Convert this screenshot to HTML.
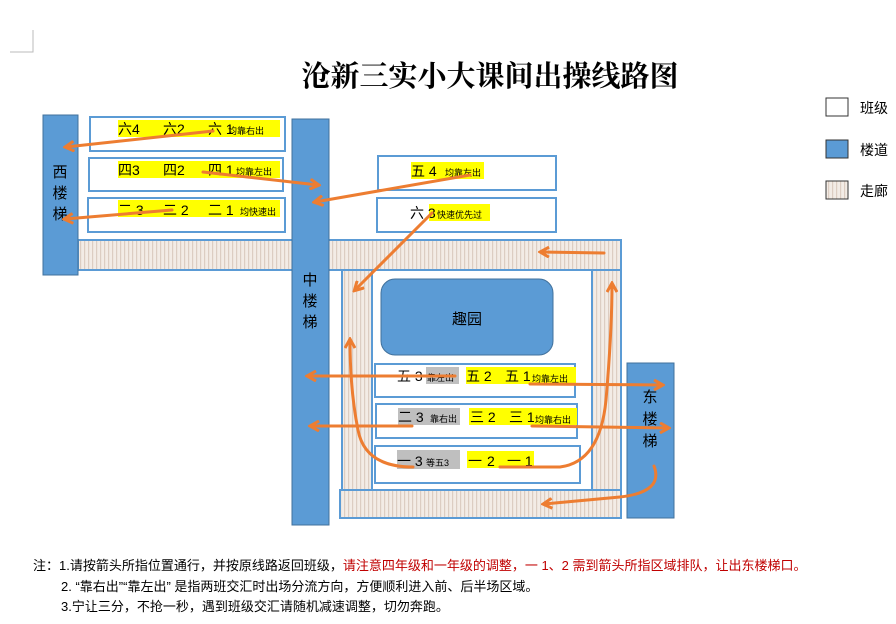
<!DOCTYPE html>
<html><head><meta charset="utf-8"><style>
html,body{margin:0;padding:0;background:#fff;}
svg{display:block;}
text{font-family:"Liberation Sans","Noto Sans CJK SC",sans-serif;}
</style></head><body>
<svg width="896" height="624" viewBox="0 0 896 624" xmlns="http://www.w3.org/2000/svg">
<defs>
<pattern id="h" width="4" height="4" patternUnits="userSpaceOnUse">
<rect width="4" height="4" fill="#f3ece6"/><rect x="0" width="1.2" height="4" fill="#dccdc2"/>
</pattern>
<marker id="a" markerWidth="12" markerHeight="12" refX="9" refY="6" orient="auto" markerUnits="userSpaceOnUse">
<polyline points="1,1 10,6 1,11" fill="none" stroke="#ED7D31" stroke-width="3"/>
</marker>
</defs>
<path d="M10 52 H33 V30" fill="none" stroke="#bbb" stroke-width="1"/>
<text x="490" y="86" text-anchor="middle" font-size="29" font-weight="bold" style="font-family:'Liberation Serif','Noto Serif CJK SC',serif">沧新三实小大课间出操线路图</text>
<rect x="826" y="98" width="22" height="18" fill="#fff" stroke="#333"/>
<text x="860" y="113" font-size="14">班级</text>
<rect x="826" y="140" width="22" height="18" fill="#5b9bd5" stroke="#333"/>
<text x="860" y="155" font-size="14">楼道</text>
<rect x="826" y="181" width="22" height="18" fill="url(#h)" stroke="#333"/>
<text x="860" y="196" font-size="14">走廊</text>
<rect x="78" y="240" width="543" height="30" fill="url(#h)" stroke="#5b9bd5" stroke-width="2"/>
<rect x="342" y="270" width="30" height="220" fill="url(#h)" stroke="#5b9bd5" stroke-width="2"/>
<rect x="592" y="270" width="29" height="220" fill="url(#h)" stroke="#5b9bd5" stroke-width="2"/>
<rect x="340" y="490" width="281" height="28" fill="url(#h)" stroke="#5b9bd5" stroke-width="2"/>
<rect x="43" y="115" width="35" height="160" fill="#5b9bd5" stroke="#41719c"/>
<text x="60" y="177" text-anchor="middle" font-size="15">西</text>
<text x="60" y="198" text-anchor="middle" font-size="15">楼</text>
<text x="60" y="219" text-anchor="middle" font-size="15">梯</text>
<rect x="292" y="119" width="37" height="406" fill="#5b9bd5" stroke="#41719c"/>
<text x="310" y="285" text-anchor="middle" font-size="15">中</text>
<text x="310" y="306" text-anchor="middle" font-size="15">楼</text>
<text x="310" y="327" text-anchor="middle" font-size="15">梯</text>
<rect x="627" y="363" width="47" height="155" fill="#5b9bd5" stroke="#41719c"/>
<text x="650" y="402" text-anchor="middle" font-size="15">东</text>
<text x="650" y="424" text-anchor="middle" font-size="15">楼</text>
<text x="650" y="446" text-anchor="middle" font-size="15">梯</text>
<rect x="381" y="279" width="172" height="76" rx="14" fill="#5b9bd5" stroke="#41719c"/>
<text x="467" y="324" text-anchor="middle" font-size="15">趣园</text>
<g fill="#fff" stroke="#5b9bd5" stroke-width="2">
<rect x="90" y="117" width="195" height="34"/>
<rect x="89" y="158" width="194" height="33"/>
<rect x="88" y="198" width="197" height="34"/>
<rect x="378" y="156" width="178" height="34"/>
<rect x="377" y="198" width="179" height="34"/>
<rect x="375" y="364" width="200" height="33"/>
<rect x="376" y="404" width="201" height="34"/>
<rect x="375" y="446" width="205" height="37"/>
</g>
<g fill="#ffff00">
<rect x="118" y="120" width="162" height="17"/>
<rect x="118" y="161" width="162" height="17"/>
<rect x="118" y="200" width="162" height="17"/>
<rect x="411" y="162" width="73" height="17"/>
<rect x="429" y="204" width="61" height="17"/>
<rect x="466" y="367" width="110" height="17"/>
<rect x="469" y="408" width="108" height="17"/>
<rect x="467" y="451" width="67" height="17"/>
</g>
<g fill="#bfbfbf">
<rect x="426" y="367" width="33" height="17"/>
<rect x="398" y="408" width="62" height="17"/>
<rect x="397" y="450" width="63" height="19"/>
</g>
<g font-size="14">
<text x="118" y="134">六4</text><text x="163" y="134">六2</text><text x="208" y="134">六 1</text><text x="228" y="134" font-size="9">均靠右出</text>
<text x="118" y="175">四3</text><text x="163" y="175">四2</text><text x="208" y="175">四 1</text><text x="236" y="175" font-size="9">均靠左出</text>
<text x="118" y="215">二 3</text><text x="163" y="215">二 2</text><text x="208" y="215">二 1</text><text x="240" y="215" font-size="9">均快速出</text>
<text x="411" y="176">五 4</text><text x="445" y="176" font-size="9">均靠左出</text>
<text x="410" y="218">六 3</text><text x="437" y="218" font-size="9">快速优先过</text>
<text x="397" y="381">五 3</text><text x="427" y="381" font-size="9">靠左出</text><text x="466" y="381">五 2</text><text x="505" y="381">五 1</text><text x="532" y="382" font-size="9">均靠左出</text>
<text x="398" y="422">二 3</text><text x="430" y="422" font-size="9">靠右出</text><text x="470" y="422">三 2</text><text x="509" y="422">三 1</text><text x="535" y="423" font-size="9">均靠右出</text>
<text x="397" y="466">一 3</text><text x="426" y="466" font-size="9">等五3</text><text x="468" y="466">一</text><text x="487" y="466">2</text><text x="507" y="466">一 1</text>
</g>
<g fill="none" stroke="#ED7D31" stroke-width="3" stroke-linecap="round">
<path d="M213 131 L66 147" marker-end="url(#a)"/>
<path d="M203 172 L318 185" marker-end="url(#a)"/>
<path d="M172 210 L65 219" marker-end="url(#a)"/>
<path d="M470 175 L315 202" marker-end="url(#a)"/>
<path d="M432 213 L355 290" marker-end="url(#a)"/>
<path d="M604 253 L541 252" marker-end="url(#a)"/>
<path d="M455 376 L308 376" marker-end="url(#a)"/>
<path d="M530 384 L662 385" marker-end="url(#a)"/>
<path d="M412 426 L311 426" marker-end="url(#a)"/>
<path d="M532 426 L668 428" marker-end="url(#a)"/>
<path d="M413 467 Q365 467 358 430 Q350 390 350 340" marker-end="url(#a)"/>
<path d="M500 467 L560 467 Q600 462 606 400 Q612 330 612 284" marker-end="url(#a)"/>
<path d="M654 466 Q664 492 620 497 L544 504" marker-end="url(#a)"/>
</g>
<g font-size="13">
<text x="33" y="570">注：1.请按箭头所指位置通行，并按原线路返回班级，<tspan fill="#c00000">请注意四年级和一年级的调整，一 1、2 需到箭头所指区域排队，让出东楼梯口。</tspan></text>
<text x="61" y="591">2. “靠右出”“靠左出” 是指两班交汇时出场分流方向，方便顺利进入前、后半场区域。</text>
<text x="61" y="611">3.宁让三分，不抢一秒，遇到班级交汇请随机减速调整，切勿奔跑。</text>
</g>
</svg>
</body></html>
